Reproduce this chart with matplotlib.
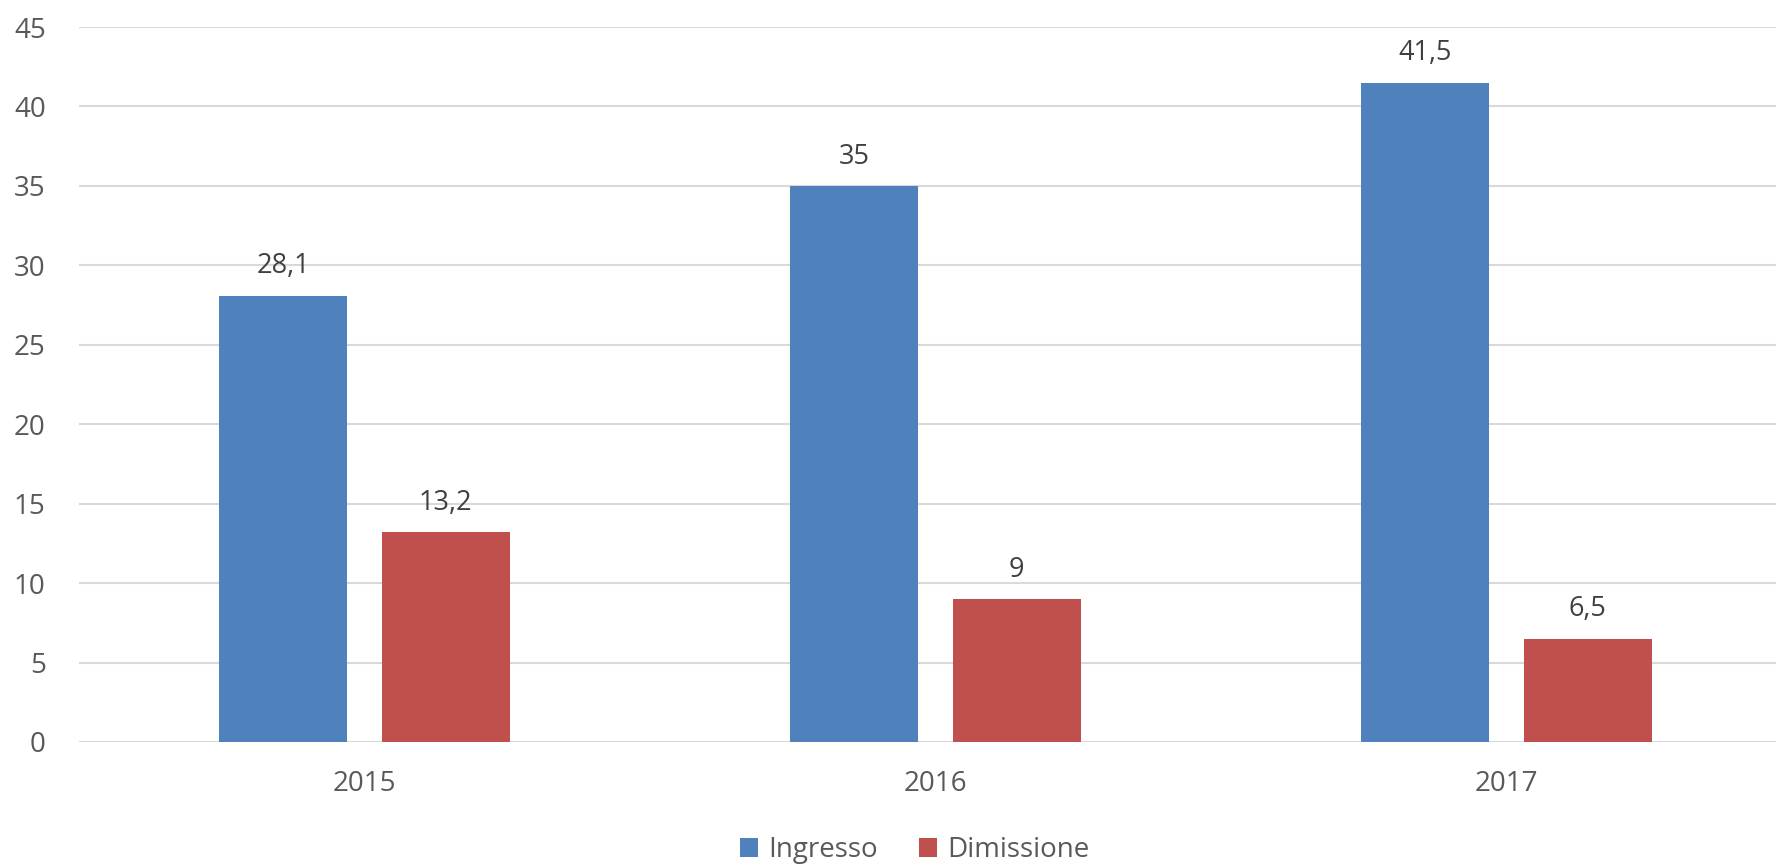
import numpy as np
import matplotlib
matplotlib.use("Agg")
from matplotlib import pyplot as plt

anni = ["2015", "2016", "2017"]
ingresso = [28.1, 35, 41.5]
dimissione = [13.2, 9, 6.5]
yticks = [0, 5, 10, 15, 20, 25, 30, 35, 40, 45]

plt.rcParams['font.family'] = ['Open Sans', 'DejaVu Sans']
txt = '#595959'

fig = plt.figure(figsize=(17.76, 8.66), dpi=100)
# plot area runs a bit past the right edge, as in the original
ax = fig.add_axes([79/1776, 1-742/866, 1713/1776, 715/866])

x = np.arange(len(anni))
w = 0.224
off = 0.142
b1 = ax.bar(x - off, ingresso, w, color='#4F81BD', label='Ingresso', zorder=3)
b2 = ax.bar(x + off, dimissione, w, color='#C0504D', label='Dimissione', zorder=3)

def fmt(v):
    return ('%g' % v).replace('.', ',')

ax.bar_label(b1, labels=[fmt(v) for v in ingresso], padding=11, fontsize=19.5, color='#404040')
ax.bar_label(b2, labels=[fmt(v) for v in dimissione], padding=11, fontsize=19.5, color='#404040')

ax.set_xlim(-0.5, 2.5)
ax.set_ylim(0, 45)
ax.set_yticks(yticks)
ax.set_yticklabels([str(t) for t in yticks])
ax.set_xticks(x)
ax.set_xticklabels(anni)
ax.tick_params(axis='both', length=0, labelsize=20, colors=txt)
ax.tick_params(axis='x', pad=20)
ax.tick_params(axis='y', pad=24)

ax.grid(axis='y', color='#D9D9D9', lw=1.5, zorder=0)
for s in ax.spines.values():
    s.set_visible(False)

leg = fig.legend(loc='center', bbox_to_anchor=(0.515, 1-850/866), ncol=2, frameon=False,
                 fontsize=20, handlelength=0.65, handleheight=0.65, columnspacing=1.5,
                 handletextpad=0.35)
for t in leg.get_texts():
    t.set_color(txt)

fig.savefig('out.png', dpi=100)
